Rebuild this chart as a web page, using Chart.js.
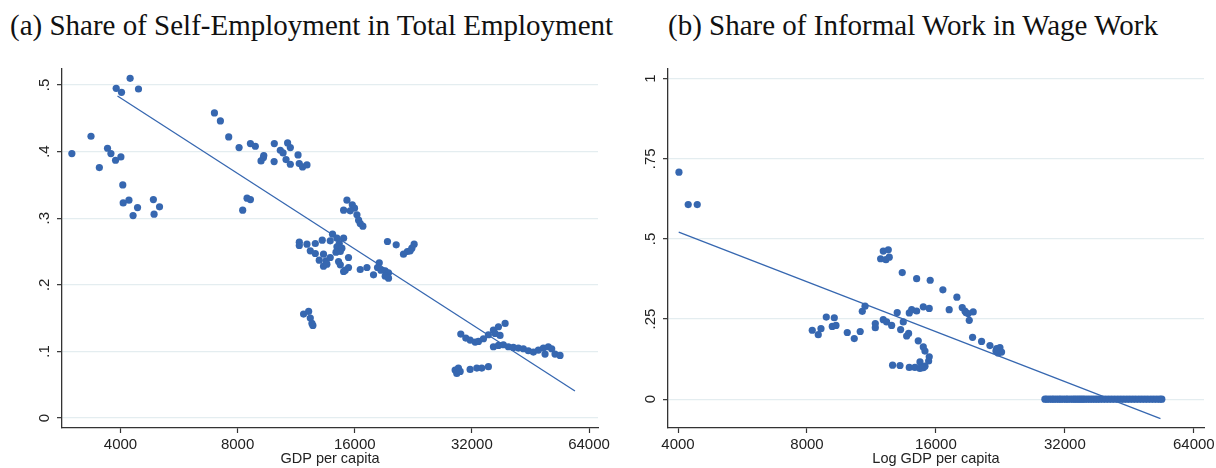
<!DOCTYPE html>
<html>
<head>
<meta charset="utf-8">
<script src="https://cdn.jsdelivr.net/npm/chart.js@4.4.1/dist/chart.umd.min.js"></script>
<style>
  html, body { margin:0; padding:0; background:#fff; }
  body { width:1216px; height:468px; position:relative; overflow:hidden; }
  .panel { position:absolute; top:0; height:468px; }
  .title { position:absolute; top:11px; font-family:"Liberation Serif", serif; font-size:29px; line-height:1; color:#111; white-space:nowrap; }
</style>
</head>
<body>
<div class="title" style="left:10px;">(a) Share of Self-Employment in Total Employment</div>
<div class="title" style="left:668px;">(b) Share of Informal Work in Wage Work</div>
<div class="panel" style="left:0; width:620px;"><canvas id="ca"></canvas></div>
<div class="panel" style="left:608px; width:608px;"><canvas id="cb"></canvas></div>
<script>
// ---------- Panel (a): Self-employment share ----------
const gdpA = [
  3000,3360,3530,3705,3780,3885,4010,3900,4025,4235,4450,4055,4065,4205,4425,4310,4860,5040,4880,
  6975,7225,7590,8070,8630,8885,9190,9320,9340,9940,9930,10300,10470,10755,10930,10655,10930,11440,11520,11750,12060,8245,8460,8630,
  11820,12180,12300,12420,12490,
  15280,15770,15980,14980,15580,16210,16370,16530,16790,
  11525,11525,12060,12670,13200,14030,13840,14400,14980,14600,14400,14830,14690,12300,12670,13300,14320,15420,12970,13500,13840,13300,13570,14540,14690,15130,15420,14980,16530,17200,18500,18310,18680,17880,19160,19540,19160,19540,19420,20450,22740,22440,22210,21350,21850,
  29970,30870,31670,32630,33270,34270,35290,36350,37450,38960,36710,37810,36350,37450,38560,39720,40900,42140,43410,44710,46060,47440,48860,50310,51320,52340,53920,49340,
  28980,29550,29270,29860,31670,32950,33930,35290
];
const shareA = [
  0.397,0.423,0.376,0.405,0.397,0.387,0.392,0.495,0.489,0.510,0.494,0.350,0.323,0.327,0.316,0.304,0.328,0.317,0.306,
  0.458,0.446,0.422,0.406,0.412,0.408,0.386,0.391,0.394,0.412,0.385,0.402,0.398,0.413,0.406,0.388,0.381,0.395,0.382,0.377,0.380,0.312,0.330,0.328,
  0.156,0.160,0.150,0.142,0.139,
  0.327,0.320,0.315,0.312,0.311,0.305,0.297,0.292,0.288,
  0.264,0.259,0.261,0.262,0.267,0.276,0.266,0.270,0.270,0.262,0.257,0.255,0.250,0.251,0.247,0.246,0.249,0.241,0.237,0.236,0.241,0.228,0.231,0.235,0.230,0.222,0.226,0.220,0.223,0.226,0.233,0.226,0.222,0.215,0.221,0.218,0.213,0.210,0.265,0.260,0.261,0.255,0.251,0.246,0.250,
  0.126,0.120,0.117,0.114,0.115,0.119,0.125,0.132,0.137,0.142,0.127,0.124,0.107,0.109,0.110,0.107,0.106,0.105,0.104,0.101,0.099,0.102,0.105,0.107,0.104,0.096,0.094,0.096,
  0.072,0.075,0.067,0.070,0.073,0.075,0.075,0.077
];
const fitGdpA = [3930, 58900];
const fitShareA = [0.4835, 0.0405];
const xTicksA = [4000, 8000, 16000, 32000, 64000];
const yTicksA = [0, 0.1, 0.2, 0.3, 0.4, 0.5];
const yLabelsA = ["0", ".1", ".2", ".3", ".4", ".5"];

// ---------- Panel (b): Informal work share ----------
const gdpB = [
  4020,4225,4435,
  8230,8500,8625,8875,9265,9165,9350,9935,10315,10650,10770,10930,11550,11550,12055,12275,12610,12995,13235,13425,13670,13815,13865,14045,14425,14550,14950,15435,14950,15085,15435,15385,
  12675,13190,13865,14290,14685,14685,14950,15085,
  12055,12385,11885,12230,12450,13350,14425,15515,16610,17910,18430,18700,19030,19550,19140,18800,17185,19485,20450,21390,22175,22570,22360,22770,22090,
  28740,29040,29440,29840,30170,30570,30980,31320,31740,32180,32510,32960,33400,33760,34140,34510,34880,35250,35640,36130,36620,37110,37620,38120,38620,39250,39870,40520,41170,41850,42550,43240,43940,44670,45390,46120,46860,47640,48400,49190,49980,50820,51630,52470,53310,53890
];
const shareB = [
  0.708,0.607,0.607,
  0.215,0.201,0.220,0.256,0.254,0.227,0.230,0.208,0.189,0.211,0.274,0.290,0.236,0.223,0.248,0.241,0.230,0.270,0.217,0.241,0.197,0.205,0.269,0.279,0.275,0.182,0.288,0.283,0.163,0.150,0.132,0.119,
  0.106,0.105,0.099,0.099,0.116,0.096,0.098,0.103,
  0.462,0.466,0.438,0.435,0.443,0.395,0.376,0.371,0.341,0.318,0.286,0.275,0.267,0.272,0.246,0.270,0.279,0.193,0.180,0.167,0.158,0.161,0.144,0.147,0.150,
  0,0,0,0,0,0,0,0,0,0,0,0,0,0,0,0,0,0,0,0,0,0,0,0,0,0,0,0,0,0,0,0,0,0,0,0,0,0,0,0,0,0,0,0,0,0
];
const fitGdpB = [4015, 53500];
const fitShareB = [0.521, -0.061];
const xTicksB = [4000, 8000, 16000, 32000, 64000];
const yTicksB = [0, 0.25, 0.5, 0.75, 1];
const yLabelsB = ["0", ".25", ".5", ".75", "1"];

// ---------- common styling ----------
const BLUE = '#3667b0';
const AXIS = '#333333';
const GRID = '#e4edf0';
const SANS = '"Liberation Sans", Arial, sans-serif';

function yLabelPlugin(labels) {
  return {
    id: 'rotatedYLabels',
    afterDraw(chart) {
      const s = chart.scales.y;
      const ctx = chart.ctx;
      ctx.save();
      ctx.font = '15px ' + SANS;
      ctx.fillStyle = '#222';
      ctx.textAlign = 'center';
      ctx.textBaseline = 'middle';
      s.ticks.forEach((t, i) => {
        const y = s.getPixelForValue(t.value);
        ctx.save();
        ctx.translate(s.right - 17, y);
        ctx.rotate(-Math.PI / 2);
        ctx.fillText(labels[i], 0, 0);
        ctx.restore();
      });
      ctx.restore();
    }
  };
}

function makeChart(id, gdp, share, fitG, fitS, xTicks, yTicks, yLabels, xMin, xMax, yMin, yMax, xTitle, padRight, yWidth) {
  const pts = gdp.map((g, i) => ({ x: g, y: share[i] }));
  const fit = fitG.map((g, i) => ({ x: g, y: fitS[i] }));
  return new Chart(document.getElementById(id), {
    type: 'scatter',
    data: {
      datasets: [
        { data: pts, backgroundColor: BLUE, borderWidth: 0, pointRadius: 3.6, pointHoverRadius: 3.6 },
        { type: 'line', data: fit, borderColor: BLUE, borderWidth: 1.3, pointRadius: 0, fill: false, tension: 0 }
      ]
    },
    options: {
      responsive: true,
      maintainAspectRatio: false,
      animation: false,
      events: [],
      layout: { padding: { left: 0, right: padRight, top: 69, bottom: 0 } },
      plugins: { legend: { display: false }, tooltip: { enabled: false }, title: { display: false } },
      scales: {
        x: {
          type: 'logarithmic',
          min: xMin, max: xMax,
          afterBuildTicks(scale) { scale.ticks = xTicks.map(v => ({ value: v })); },
          afterFit(scale) { scale.height = 40; scale.paddingLeft = 0; scale.paddingRight = 0; },
          ticks: {
            autoSkip: false, maxRotation: 0, minRotation: 0, padding: 3,
            color: '#222', font: { family: SANS, size: 15 },
            callback: (v) => String(v)
          },
          grid: { drawOnChartArea: false, drawTicks: true, tickLength: 5, tickColor: AXIS, tickWidth: 1.2 },
          border: { display: true, color: AXIS, width: 1.3 },
          title: { display: true, text: xTitle, color: '#222', font: { family: SANS, size: 14.5 }, padding: { top: 0, bottom: 0 } }
        },
        y: {
          type: 'linear',
          min: yMin, max: yMax,
          afterBuildTicks(scale) { scale.ticks = yTicks.map(v => ({ value: v })); },
          afterFit(scale) { scale.width = yWidth; scale.paddingTop = 0; scale.paddingBottom = 0; },
          ticks: { display: false },
          grid: { color: GRID, lineWidth: 1.3, drawTicks: true, tickLength: 5, tickColor: AXIS, tickWidth: 1.2 },
          border: { display: true, color: AXIS, width: 1.3 }
        }
      }
    },
    plugins: [yLabelPlugin(yLabels)]
  });
}

makeChart('ca', gdpA, shareA, fitGdpA, fitShareA, xTicksA, yTicksA, yLabelsA,
  2830, 67500, -0.015, 0.524, 'GDP per capita', 22, 62);
makeChart('cb', gdpB, shareB, fitGdpB, fitShareB, xTicksB, yTicksB, yLabelsB,
  3790, 67600, -0.09, 1.03, 'Log GDP per capita', 12, 60);
</script>
</body>
</html>
